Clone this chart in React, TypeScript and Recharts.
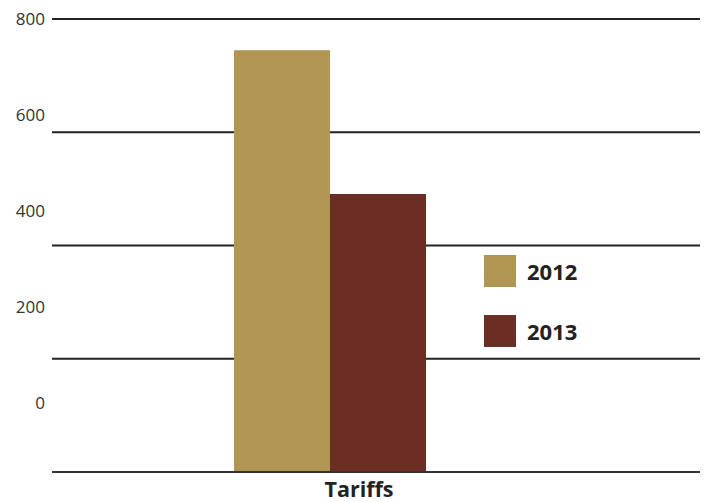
import React from "react";
import { BarChart, Bar, XAxis, YAxis, CartesianGrid, Legend } from "recharts";

const categories = ["Tariffs"];
const values2012 = [745];
const values2013 = [491];
const seriesNames = ["2012", "2013"];
const seriesColors = ["#B09652", "#6B2E25"];
const gridTicks = [0, 200, 400, 600, 800];
const labelTicks = [0, 200, 400, 600, 800];

const data = categories.map((c, i) => ({
  name: c,
  y2012: values2012[i],
  y2013: values2013[i],
}));

const FONT = "'Open Sans', sans-serif";

const renderLegend = () => (
  <div style={{ fontFamily: FONT }}>
    {seriesNames.map((n, i) => (
      <div
        key={n}
        style={{ display: "flex", alignItems: "center", height: 32, marginBottom: i === 0 ? 28 : 0 }}
      >
        <div style={{ width: 32, height: 32, background: seriesColors[i], marginRight: 11 }} />
        <span style={{ fontSize: 22, fontWeight: 700, color: "#222" }}>{n}</span>
      </div>
    ))}
  </div>
);

const XTick = (props: any) => {
  const { x, y, payload } = props;
  return (
    <text
      x={x}
      y={y}
      dx={29}
      dy={17}
      textAnchor="middle"
      fontFamily={FONT}
      fontSize={21.5}
      fontWeight={700}
      fill="#222"
    >
      {payload.value}
    </text>
  );
};

export default function App() {
  return (
    <BarChart
      width={700}
      height={494}
      data={data}
      margin={{ top: 11, right: 5, left: 0, bottom: 0 }}
      barGap={0}
    >
      <CartesianGrid
        yAxisId="grid"
        vertical={false}
        stroke="#222"
        strokeWidth={2}
      />
      <XAxis
        dataKey="name"
        height={30}
        padding={{ left: 0, right: 95 }}
        tickLine={false}
        axisLine={{ stroke: "#333", strokeWidth: 2 }}
        tick={<XTick />}
      />
      <YAxis
        yAxisId="labels"
        orientation="left"
        type="number"
        domain={[-144, 800]}
        ticks={labelTicks}
        allowDataOverflow
        width={44}
        axisLine={false}
        tickLine={false}
        tickMargin={1}
        tick={{ fontFamily: FONT, fontSize: 17, fill: "#333" }}
      />
      <YAxis
        yAxisId="grid"
        orientation="right"
        type="number"
        domain={[0, 800]}
        ticks={gridTicks}
        hide
      />
      <Legend
        layout="horizontal"
        verticalAlign="middle"
        align="center"
        content={renderLegend}
        wrapperStyle={{ position: "absolute", left: 476, top: 247, width: 150 }}
      />
      <Bar yAxisId="grid" dataKey="y2012" name="2012" fill={seriesColors[0]} barSize={96} isAnimationActive={false} />
      <Bar yAxisId="grid" dataKey="y2013" name="2013" fill={seriesColors[1]} barSize={96} isAnimationActive={false} />
    </BarChart>
  );
}
